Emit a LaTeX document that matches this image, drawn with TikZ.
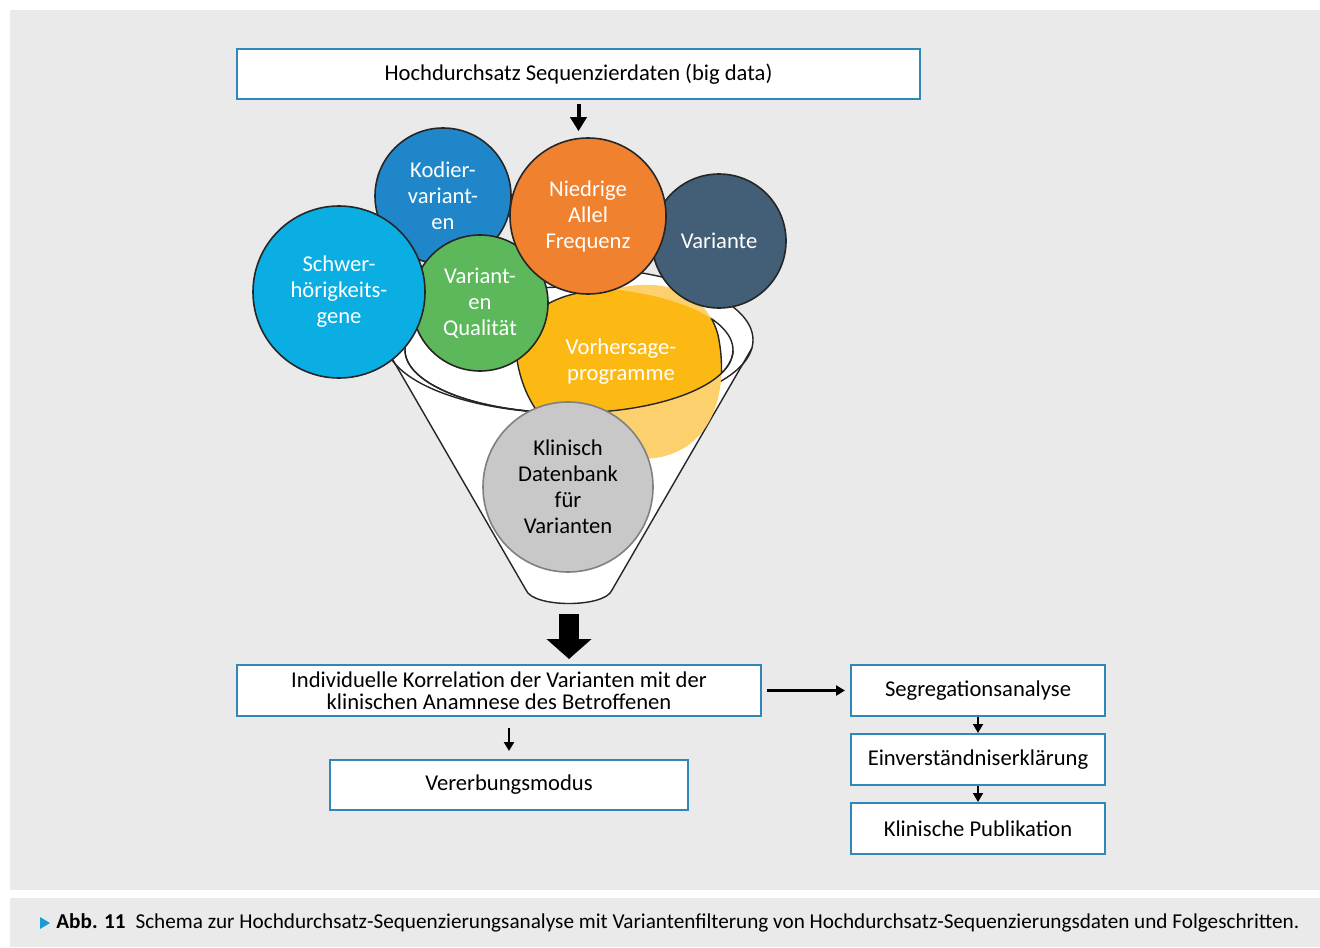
\documentclass[tikz,border=0pt]{standalone}
\usepackage{fontspec}
\setmainfont{Carlito}
\usepackage{xcolor}
\usetikzlibrary{arrows.meta,positioning}

\definecolor{panelgray}{HTML}{EAEAEA}
\definecolor{boxblue}{HTML}{2F88B8}
\definecolor{kodierblue}{HTML}{1F87C9}
\definecolor{allelorange}{HTML}{F0812F}
\definecolor{slate}{HTML}{435F77}
\definecolor{cyanball}{HTML}{0BAEE3}
\definecolor{greenball}{HTML}{5CB85B}
\definecolor{yellowball}{HTML}{FDB913}
\definecolor{yellowlight}{HTML}{FDD06E}
\definecolor{grayball}{HTML}{C8C8C8}
\definecolor{capblue}{HTML}{1A9BD7}

\begin{document}
\begin{tikzpicture}[x=0.5pt, y=-0.5pt,
    box/.style={draw=boxblue, line width=1pt, fill=white, minimum height=25pt, inner sep=2pt, align=center, font=\fontsize{11.3}{11}\selectfont},
    ball/.style={circle, draw=black!85, line width=0.8pt, text=white, align=center, inner sep=0pt, font=\fontsize{11.3}{13}\selectfont},
    funnel/.style={draw=black!85, line width=0.7pt},
    arr/.style={-{Triangle[width=5pt,length=4.5pt]}, line width=1.2pt},
    toparr/.style={-{Triangle[width=8pt,length=7pt]}, line width=2pt},
    bigarr/.style={-{Triangle[width=22pt,length=10pt]}, line width=10pt},
]

% page and panels
\useasboundingbox (0,0) rectangle (1320,947);
\fill[white] (0,0) rectangle (1320,947);
\fill[panelgray] (10,10) rectangle (1320,890);
\fill[panelgray] (10,898) rectangle (1320,947);

% Input box
\node[box, minimum width=341.5pt] (input) at (578.5,74.5) {Hochdurchsatz Sequenzierdaten (big data)};

% Funnel body
\fill[white] (386,348) -- (526,590) .. controls (533,608) and (605,608) .. (612,590) -- (752,348) -- cycle;
\fill[white] (569,340) ellipse [x radius=184, y radius=73];
\draw[funnel] (386,348) -- (526,590) .. controls (533,608) and (605,608) .. (612,590) -- (752,348);
\draw[funnel] (569,340) ellipse [x radius=184, y radius=73];
\draw[funnel] (569,350) ellipse [x radius=164, y radius=63];
\coordinate (funnelbot) at (569,604);

% Prediction blob, lighter where it sinks below the rim
\fill[yellowlight] (517,360) .. controls (515,310) and (560,290) .. (610,290)
    .. controls (660,276) and (706,290) .. (718,335)
    .. controls (730,392) and (712,450) .. (655,458)
    .. controls (600,465) and (530,440) .. (517,360) -- cycle;
\begin{scope}
\clip (569,350) ellipse [x radius=164, y radius=63];
\filldraw[fill=yellowball, funnel] (517,360) .. controls (515,310) and (560,290) .. (610,290)
    .. controls (660,276) and (706,290) .. (718,335)
    .. controls (730,392) and (712,450) .. (655,458)
    .. controls (600,465) and (530,440) .. (517,360) -- cycle;
\end{scope}
\draw[funnel] (405,350) arc [start angle=180, end angle=0, x radius=164, y radius=63];
\node[text=white, align=center, font=\fontsize{11.3}{13}\selectfont] (vorhersage) at (621,362) {Vorhersage-\\programme};

% Filter criteria
\node[ball, fill=grayball, draw=black!50, text=black, minimum size=85pt] (klinisch) at (568,487) {Klinisch\\Datenbank\\für\\Varianten};
\node[ball, fill=kodierblue, minimum size=68pt] (kodier) at (443,196) {Kodier-\\variant-\\en};
\node[ball, fill=slate, minimum size=67pt] (variante) at (719,241) {Variante};
\node[ball, fill=greenball, minimum size=68pt] (qualitaet) at (480,303) {Variant-\\en\\Qualität};
\node[ball, fill=cyanball, minimum size=86pt] (schwer) at (339,292) {Schwer-\\hörigkeits-\\gene};
\node[ball, fill=allelorange, minimum size=78pt] (allel) at (588,216) {Niedrige\\Allel\\Frequenz};

% Follow-up steps
\node[box, minimum width=262pt, minimum height=25.5pt] (korrelation) at (499,690.5) {Individuelle Korrelation der Varianten mit der\\klinischen Anamnese des Betroffenen};
\node[box, minimum width=179pt] (vererbung) at (509,785) {Vererbungsmodus};
\node[box, minimum width=127pt, minimum height=25.5pt] (segregation) at (978,690.5) {Segregationsanalyse};
\node[box, minimum width=127pt, minimum height=25.5pt, below=8pt of segregation] (einverst) {Einverständniserklärung};
\node[box, minimum width=127pt, minimum height=25.5pt, below=8pt of einverst] (publikation) {Klinische Publikation};

% Arrows
\draw[toparr, shorten <=1.5pt, shorten >=3pt] (input.south) -- (input.south |- allel.north);
\draw[bigarr, shorten <=5pt, shorten >=2.5pt] (funnelbot) -- (funnelbot |- korrelation.north);
\draw[arr, shorten <=5.5pt, shorten >=4pt] (vererbung.north |- korrelation.south) -- (vererbung.north);
\draw[arr, shorten <=2.5pt, shorten >=2.5pt] (korrelation.east) -- (segregation.west);
\foreach \a/\b in {segregation/einverst, einverst/publikation} {
    \draw[arr, line width=1pt] (\a.south) -- (\b.north);
}

% Caption
\fill[capblue] (40,917) -- (50,923) -- (40,929) -- cycle;
\node[anchor=west, inner sep=0pt, font=\fontsize{10.6}{12}\selectfont] (caption) at (56,923)
    {\textbf{Abb. 11}\hspace{5pt}Schema zur Hochdurchsatz-Sequenzierungsanalyse mit Variantenfilterung von Hochdurchsatz-Sequenzierungsdaten und Folgeschritten.};

\end{tikzpicture}
\end{document}
